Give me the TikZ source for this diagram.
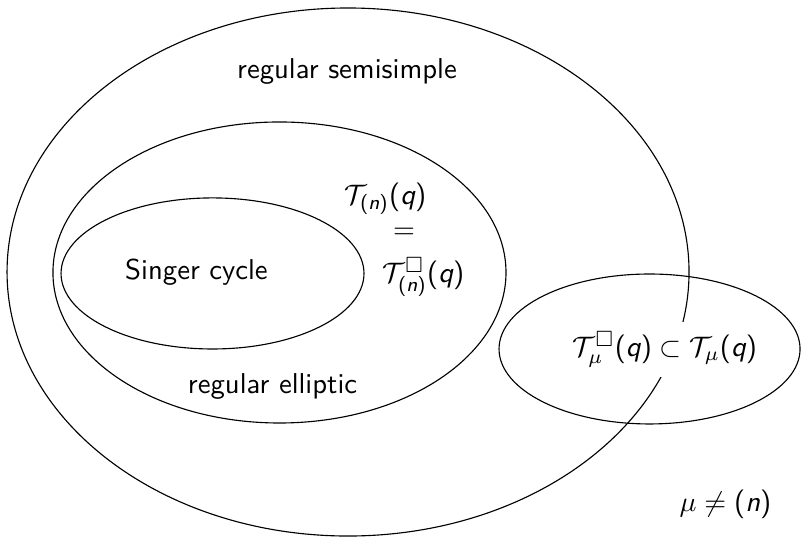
\documentclass[tikz,border=0pt]{standalone}
\usepackage{amsmath, amssymb}
\usepackage{tikz}
\usetikzlibrary{shapes.geometric}

\newcommand{\sfit}[1]{\textsf{\slshape #1}}
\newcommand{\sfpar}[1]{\textsf{(}#1\textsf{)}}
\newcommand{\torus}[1]{\mathcal{T}_{#1}}

\begin{document}
\begin{tikzpicture}[font=\fontsize{10.2}{12}\selectfont\sffamily,
  region/.style={ellipse, draw, inner sep=0pt}]
  \useasboundingbox (0,0) rectangle (10,6.704);
  % the four regions
  \node[region, minimum width=8.514cm, minimum height=6.592cm]
    (semisimple) at (4.345,3.308) {};
  \node[region, minimum width=5.656cm, minimum height=3.758cm]
    (elliptic) at (3.489,3.302) {};
  \node[region, minimum width=3.782cm, minimum height=1.886cm]
    (singer) at (2.653,3.290) {};
  \node[region, minimum width=3.758cm, minimum height=1.872cm]
    (other) at (8.109,2.347) {};
  % labels
  \node (semilabel) at (4.332,5.811) {regular semisimple};
  \node (singerlabel) at (2.453,3.311) {Singer cycle};
  \node (elllabel) at (3.403,1.885) {regular elliptic};
  \node (coxeter) at (4.813,4.226) {$\torus{\sfpar{\sfit{n}}}\sfpar{\sfit{q}}$};
  \node (eq) at (5.044,3.795) {$=$};
  \node (coxeterbox) at (5.287,3.246)
    {$\torus{\sfpar{\sfit{n}}}^{\square}\sfpar{\sfit{q}}$};
  \node[fill=white] (mulabel) at (8.302,2.341)
    {$\torus{\mu}^{\square}\sfpar{\sfit{q}}\subset\torus{\mu}\sfpar{\sfit{q}}$};
  \node (mucond) at (9.057,0.406) {$\mu\neq\sfpar{\sfit{n}}$};
\end{tikzpicture}
\end{document}
